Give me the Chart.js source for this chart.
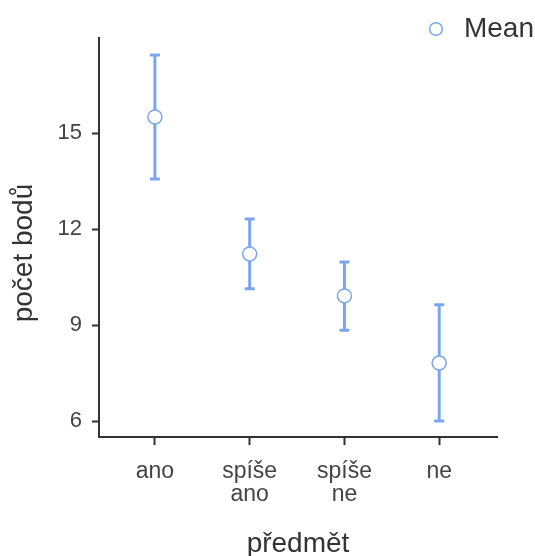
<!DOCTYPE html>
<html>
<head>
<meta charset="utf-8">
<script src="https://cdn.jsdelivr.net/npm/chart.js@4.4.1/dist/chart.umd.min.js"></script>
<style>
  body { margin: 0; background: #fff; }
  #wrap { width: 535px; height: 556px; }
</style>
</head>
<body>
<div id="wrap"><canvas id="chart"></canvas></div>
<script>
// data
const categories = [['ano'], ['spíše', 'ano'], ['spíše', 'ne'], ['ne']];
const means = [15.5, 11.22, 9.91, 7.81];
const lower = [13.56, 10.13, 8.84, 6.0];
const upper = [17.44, 12.31, 10.97, 9.63];
const yTicks = [6, 9, 12, 15];

const blue = '#7aa7ec';
const axisCol = '#333333';
const font = "'Liberation Sans', Arial, sans-serif";

// whiskers with caps, drawn under the points
const errorBars = {
    id: 'errorBars',
    beforeDatasetsDraw(chart) {
        const ctx = chart.ctx;
        const xs = chart.scales.x;
        const ys = chart.scales.y;
        ctx.save();
        ctx.strokeStyle = blue;
        ctx.lineWidth = 3;
        for (let i = 0; i < means.length; i++) {
            const x = xs.getPixelForValue(i + 1);
            const y1 = ys.getPixelForValue(lower[i]);
            const y2 = ys.getPixelForValue(upper[i]);
            ctx.beginPath();
            ctx.moveTo(x, y1);
            ctx.lineTo(x, y2);
            ctx.moveTo(x - 5, y1);
            ctx.lineTo(x + 5, y1);
            ctx.moveTo(x - 5, y2);
            ctx.lineTo(x + 5, y2);
            ctx.stroke();
        }
        ctx.restore();
    }
};

new Chart(document.getElementById('chart'), {
    type: 'scatter',
    data: {
        datasets: [{
            label: 'Mean',
            data: means.map((m, i) => ({ x: i + 1, y: m })),
            backgroundColor: '#ffffff',
            borderColor: blue,
            pointRadius: 7,
            pointHoverRadius: 7,
            pointBorderWidth: 1.5
        }]
    },
    options: {
        responsive: true,
        maintainAspectRatio: false,
        animation: false,
        layout: { padding: { top: 14 } },
        plugins: {
            tooltip: { enabled: false },
            legend: {
                position: 'top',
                align: 'end',
                maxHeight: 24,
                labels: {
                    usePointStyle: true,
                    pointStyle: 'circle',
                    boxWidth: 28,
                    boxHeight: 9,
                    padding: 1,
                    color: axisCol,
                    font: { family: font, size: 28 }
                }
            }
        },
        scales: {
            x: {
                type: 'linear',
                min: 0.41,
                max: 4.61,
                afterBuildTicks: s => { s.ticks = [1, 2, 3, 4].map(v => ({ value: v })); },
                afterFit: s => { s.height = 119; },
                grid: { drawOnChartArea: false, drawTicks: true, tickLength: 8, tickColor: axisCol, tickWidth: 2 },
                border: { color: axisCol, width: 2 },
                ticks: {
                    color: '#444',
                    padding: 15,
                    font: { family: font, size: 23, lineHeight: 1.0 },
                    callback: v => categories[v - 1]
                },
                title: {
                    display: true,
                    text: 'předmět',
                    color: axisCol,
                    font: { family: font, size: 28, lineHeight: 0.85 },
                    padding: { top: 0, bottom: 0 }
                }
            },
            y: {
                min: 5.5,
                max: 17.97,
                afterBuildTicks: s => { s.ticks = yTicks.map(v => ({ value: v })); },
                afterFit: s => { s.width = 99; },
                grid: { drawOnChartArea: false, drawTicks: true, tickLength: 7, tickColor: axisCol, tickWidth: 2 },
                border: { color: axisCol, width: 2 },
                ticks: {
                    color: '#444',
                    padding: 10,
                    font: { family: font, size: 22 }
                },
                title: {
                    display: true,
                    text: 'počet bodů    ',
                    color: axisCol,
                    font: { family: font, size: 28, lineHeight: 1 },
                    padding: { top: 10, bottom: 0 }
                }
            },
            // empty spacer so the plot stops short of the right edge
            yRight: {
                position: 'right',
                afterFit: s => { s.width = 38; },
                grid: { display: false },
                border: { display: false },
                ticks: { display: false }
            }
        }
    },
    plugins: [errorBars]
});
</script>
</body>
</html>
